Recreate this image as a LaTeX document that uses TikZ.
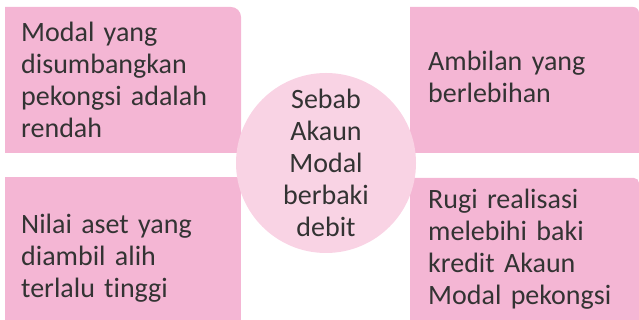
\documentclass[tikz,border=0pt]{standalone}
\usepackage{fontspec}
\setmainfont[Ligatures=NoCommon]{Carlito}
\usepackage{tikz}
\usetikzlibrary{positioning}

\definecolor{boxpink}{HTML}{F4B6D4}
\definecolor{circpink}{HTML}{F9D3E4}
\definecolor{inkgray}{HTML}{333333}

\begin{document}
\begin{tikzpicture}[
    x=1pt, y=1pt,
    boxfill/.style={fill=boxpink},
    reason/.style={anchor=base west, inner sep=0pt, text width=215pt, align=left,
                   text=inkgray, font=\fontsize{28}{32}\selectfont},
    hub/.style={circle, fill=circpink, minimum size=180pt, inner sep=0pt}
]
    \useasboundingbox (0,0) rectangle (639,320);

    % Boxes
    \fill[boxfill] (5,167) -- (5,313) -- (231,313) arc[start angle=90, end angle=0, radius=10] -- (241,167) -- cycle;
    \fill[boxfill] (410,167) -- (410,313) -- (633,313) arc[start angle=90, end angle=0, radius=6] -- (639,167) -- cycle;
    \fill[boxfill] (5,-2) rectangle (241,143);
    \fill[boxfill] (410,-2) -- (410,142) -- (634,142) arc[start angle=90, end angle=0, radius=5] -- (639,-2) -- cycle;

    % Centre
    \node[hub] (sebab) at (326,157) {};
    \node[anchor=base, inner sep=0pt, text width=120pt, align=center, text=inkgray,
          font=\fontsize{28}{32}\selectfont] (sebabtxt) at (326,211)
          {Sebab\\Akaun\\Modal\\berbaki\\debit};

    % Reasons
    \node[reason] (modal) at (21,278) {Modal yang\\disumbangkan\\pekongsi adalah\\rendah};
    \node[reason] (ambilan) at (428,249) {Ambilan yang\\berlebihan};
    \node[reason] (aset) at (21,86) {Nilai aset yang\\diambil alih\\terlalu tinggi};
    \node[reason] (rugi) at (428,111) {Rugi realisasi\\melebihi baki\\kredit Akaun\\Modal pekongsi};
\end{tikzpicture}
\end{document}
